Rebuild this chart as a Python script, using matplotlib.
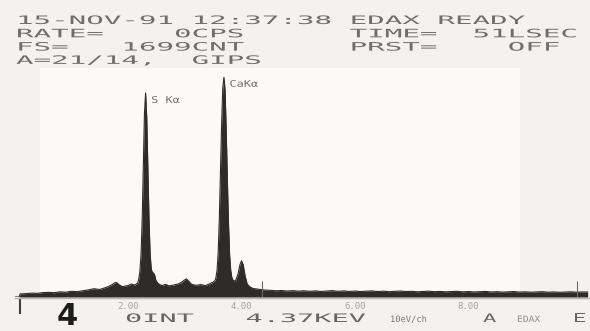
import matplotlib
matplotlib.use("Agg")
import matplotlib.pyplot as plt
import matplotlib.patheffects as pe
from matplotlib.transforms import Affine2D, blended_transform_factory
from matplotlib.patches import Rectangle

# spectrum: energy (keV) and counts
kev = [0.00, 0.08, 0.10, 0.20, 0.30, 0.40, 0.50, 0.60, 0.70, 0.80, 0.90, 1.00,
       1.10, 1.20, 1.30, 1.40, 1.50, 1.60, 1.66, 1.72, 1.76, 1.80, 1.84, 1.90,
       2.00, 2.06, 2.12, 2.17, 2.19, 2.21, 2.23, 2.25, 2.27, 2.29, 2.31, 2.33,
       2.35, 2.37, 2.39, 2.41, 2.43, 2.45, 2.47, 2.49, 2.52, 2.56, 2.60, 2.66,
       2.72, 2.80, 2.88, 2.94, 2.99, 3.03, 3.07, 3.12, 3.20, 3.28, 3.36, 3.44,
       3.50, 3.53, 3.55, 3.57, 3.59, 3.61, 3.63, 3.65, 3.67, 3.69, 3.71, 3.73,
       3.75, 3.77, 3.79, 3.81, 3.83, 3.86, 3.90, 3.94, 3.97, 4.00, 4.03, 4.06,
       4.10, 4.15, 4.20, 4.30, 4.40, 4.50, 4.60, 4.70, 4.80, 4.90, 5.00, 5.10,
       5.20, 5.30, 5.40, 5.50, 5.60, 5.70, 5.80, 5.90, 6.00, 6.10, 6.20, 6.30,
       6.40, 6.50, 6.60, 6.70, 6.80, 6.90, 7.00, 7.10, 7.20, 7.30, 7.40, 7.50,
       7.60, 7.70, 7.80, 7.90, 8.00, 8.10, 8.20, 8.30, 8.40, 8.50, 8.60, 8.70,
       8.80, 8.90, 9.00, 9.10, 9.20, 9.30, 9.40, 9.50, 9.60, 9.70, 9.80, 9.90,
       10.00, 10.10]
cnt = [0, 0, 24, 26, 30, 28, 34, 36, 33, 40, 37, 44,
       41, 48, 55, 64, 58, 72, 82, 95, 108, 112, 96, 80,
       88, 100, 92, 108, 140, 200, 330, 600, 1020, 1420, 1575, 1390,
       1000, 600, 330, 215, 190, 185, 170, 130, 108, 96, 88, 98,
       86, 92, 100, 112, 130, 140, 122, 98, 90, 96, 88, 102,
       115, 125, 150, 210, 350, 620, 980, 1340, 1610, 1699, 1600, 1300,
       920, 580, 330, 205, 150, 122, 130, 180, 245, 280, 250, 170,
       100, 78, 66, 60, 54, 52, 48, 50, 46, 49, 45, 48,
       44, 47, 43, 46, 49, 44, 47, 43, 46, 42, 45, 47,
       42, 45, 41, 44, 46, 42, 44, 40, 43, 45, 41, 43,
       40, 42, 44, 40, 42, 39, 41, 43, 39, 41, 38, 40,
       42, 38, 40, 37, 39, 41, 37, 39, 36, 38, 40, 37,
       39, 38]

full_scale = 1699
tick_kev = [2, 4, 6, 8]
tick_txt = ["2.00", "4.00", "6.00", "8.00"]
peak_kev = [2.31, 3.69]
peak_cnt = [1575, 1699]
peak_txt = ["S Kα", "CaKα"]
cursor_kev = [4.37, 9.91]
start_kev = 0.1

header = ["15-NOV-91 12:37:38 EDAX READY",
          "RATE=    0CPS      TIME=  51LSEC",
          "FS=   1699CNT      PRST=    OFF",
          "A=21/14,  GIPS"]

W, H = 590, 331
MONO = "DejaVu Sans Mono"


class Wide(pe.AbstractPathEffect):
    # stretch glyphs sideways like the printer font
    def __init__(self, sx):
        super().__init__()
        self.sx = sx

    def draw_path(self, renderer, gc, tpath, affine, rgbFace=None):
        renderer.draw_path(gc, tpath, Affine2D().scale(self.sx, 1) + affine, rgbFace)


def put(x, y, s, size=8.4, sx=2.5, color="#6e6e6e", **kw):
    kw.setdefault("family", MONO)
    fig.text(x / W, 1 - y / H, s, fontsize=size, color=color, ha="left",
             va="baseline", path_effects=[Wide(sx)], **kw)


fig = plt.figure(figsize=(5.9, 3.31), dpi=100, facecolor="#f4f2f0")
fig.add_artist(Rectangle((40 / W, 1 - 292 / H), 480 / W, 224 / H,
                         transform=fig.transFigure, color="#fbfaf9", lw=0, zorder=0))

ax = fig.add_axes([14.5 / W, 34 / H, 576 / W, 220 / H])
ax.set_facecolor("none")
ax.set_xlim(0, 10.15)
ax.set_ylim(0, full_scale)

ax.fill_between(kev, cnt, color="#2e2b2b", lw=0)
ax.plot(kev, cnt, color="#2e2b2b", lw=0.8)
ax.vlines(cursor_kev, 0, 120, color="#6a6a6a", lw=0.8)

for e, c, t in zip(peak_kev, peak_cnt, peak_txt):
    ax.annotate(t, (e, c), xytext=(4, -2), textcoords="offset points",
                ha="left", va="top", fontsize=6.6, family=MONO, color="#707070",
                path_effects=[Wide(1.3)])

for s in ["left", "right", "top"]:
    ax.spines[s].set_visible(False)
ax.spines["bottom"].set_position(("outward", 1))
ax.spines["bottom"].set_color("#b4b4b4")
ax.spines["bottom"].set_linewidth(1.0)
ax.set_yticks([])
ax.set_xticks(tick_kev, tick_txt)
ax.tick_params(axis="x", length=0, pad=2.5, labelsize=6.5, labelcolor="#a4a4a4")
for lab in ax.get_xticklabels():
    lab.set_family(MONO)

tr = blended_transform_factory(ax.transData, ax.transAxes)
ax.plot([start_kev, start_kev], [-0.014, -0.073], transform=tr, clip_on=False,
        color="#404040", lw=1.5)

# header block
for i, line in enumerate(header):
    put(16, 24 + i * 13.3, line)

# bottom status line
put(125, 322, "0INT   4.37KEV", sx=2.45, color="#666666")
put(390, 322, "10eV/ch", size=6.3, sx=1.0, color="#7c7c7c")
put(483, 322, "A", sx=1.9, color="#666666")
put(517, 322, "EDAX", size=6.3, sx=1.1, color="#909090")
put(573, 322, "E", sx=1.9, color="#666666")
fig.text(57 / W, 6 / H, "4", fontsize=22, fontweight="bold", color="#1c1c1c",
         ha="left", va="baseline")

fig.savefig("out.png", dpi=100, facecolor=fig.get_facecolor())
